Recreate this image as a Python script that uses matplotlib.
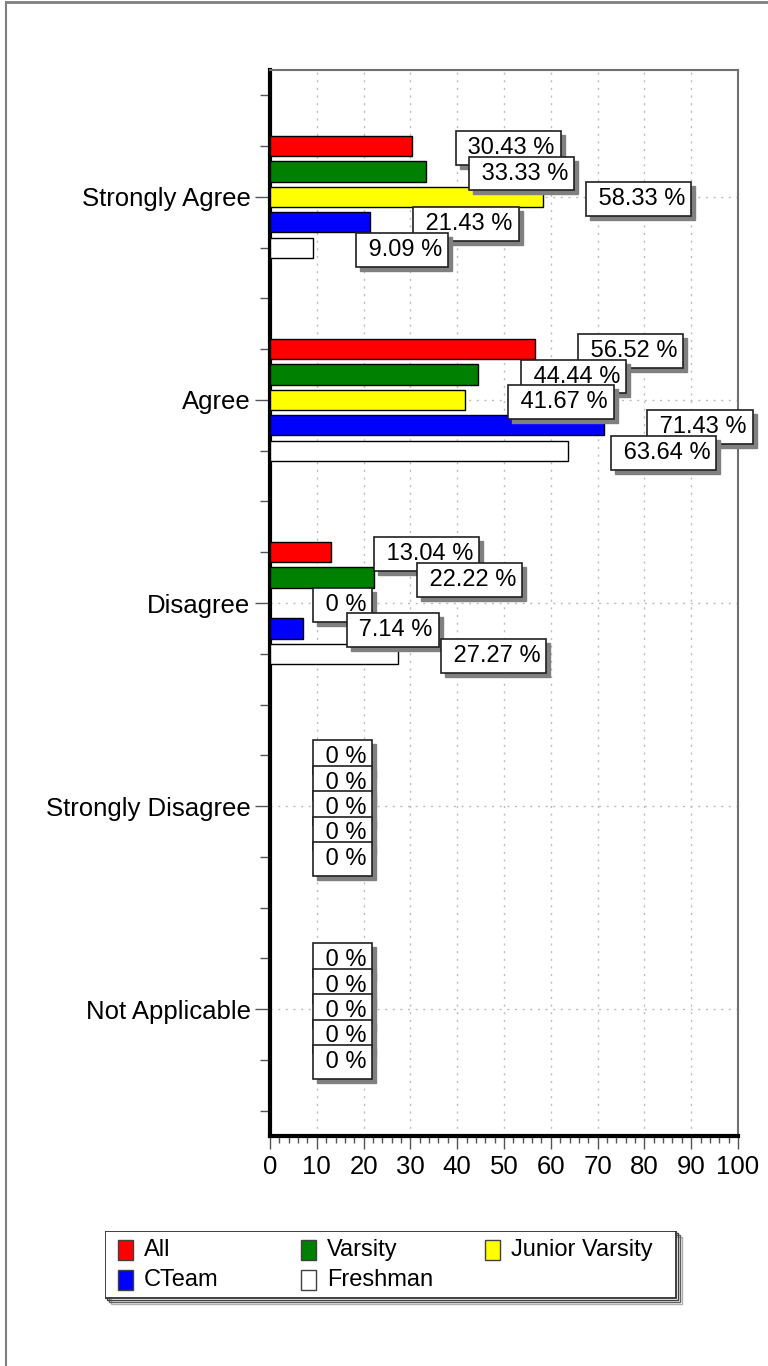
import matplotlib.pyplot as plt
import matplotlib.patches as mpatches
from matplotlib.lines import Line2D
from matplotlib.ticker import FixedLocator
import numpy as np

plt.rcParams['font.family'] = ['Liberation Sans', 'DejaVu Sans']

# data
categories = ['Strongly Agree', 'Agree', 'Disagree', 'Strongly Disagree', 'Not Applicable']
groups = ['All', 'Varsity', 'Junior Varsity', 'CTeam', 'Freshman']
colors = ['#ff0000', '#008000', '#ffff00', '#0000ff', '#ffffff']
vals_all = [30.43, 56.52, 13.04, 0, 0]
vals_varsity = [33.33, 44.44, 22.22, 0, 0]
vals_jv = [58.33, 41.67, 0, 0, 0]
vals_cteam = [21.43, 71.43, 7.14, 0, 0]
vals_fresh = [9.09, 63.64, 27.27, 0, 0]
xticks = [0, 10, 20, 30, 40, 50, 60, 70, 80, 90, 100]

series = [vals_all, vals_varsity, vals_jv, vals_cteam, vals_fresh]
offsets = [-0.25, -0.125, 0, 0.125, 0.25]

W, H = 768, 1366
fig = plt.figure(figsize=(W / 100, H / 100), dpi=100)

# outer frame of the original page
fig.add_artist(Line2D([6 / W, 6 / W], [0, 1 - 2 / H], transform=fig.transFigure, color='#808080', lw=1.5))
fig.add_artist(Line2D([6 / W, 1], [1 - 2 / H, 1 - 2 / H], transform=fig.transFigure, color='#808080', lw=2))

ax = fig.add_axes([270 / W, 1 - 1136 / H, (738 - 270) / W, (1136 - 70) / H])
ypos = np.arange(len(categories))

for i, s in enumerate(series):
    ax.barh(ypos + offsets[i], s, height=0.1, color=colors[i], edgecolor='black', lw=1, zorder=3)

# value labels with drop shadows, drawn in order so later ones sit on top
z = 10
for j in range(len(categories)):
    for i, s in enumerate(series):
        v = s[j]
        y = j + offsets[i]
        txt = ' ' + ('%g' % v) + ' %'
        ax.annotate(txt, (v, y), xytext=(49 + 4, -6), textcoords='offset pixels',
                    ha='left', va='center', fontsize=17, color='none', zorder=z,
                    bbox=dict(boxstyle='square,pad=0.25', fc='#808080', ec='#808080', lw=1))
        ax.annotate(txt, (v, y), xytext=(49, -2), textcoords='offset pixels',
                    ha='left', va='center', fontsize=17, color='black', zorder=z + 1,
                    bbox=dict(boxstyle='square,pad=0.25', fc='white', ec='#202020', lw=1.2))
        z += 2

ax.set_xlim(0, 100)
ax.set_ylim(len(categories) - 1 + 0.625, -0.625)
ax.set_xticks(xticks)
ax.set_xticklabels([str(t) for t in xticks])
ax.xaxis.set_minor_locator(FixedLocator(np.arange(0, 101, 2)))
ax.set_yticks(ypos)
ax.set_yticklabels(categories)
minor_y = sorted(set([c + d for c in ypos for d in (-0.5, -0.25, 0.25, 0.5)]))
ax.yaxis.set_minor_locator(FixedLocator(minor_y))

ax.tick_params(axis='x', which='major', length=9, width=1, color='#555555', labelsize=18.5, pad=5)
ax.tick_params(axis='x', which='minor', length=5, width=1, color='#555555')
ax.tick_params(axis='y', which='major', length=11, width=1, color='#555555', labelsize=18.5, pad=3)
ax.tick_params(axis='y', which='minor', length=7, width=1, color='#555555')

ax.set_axisbelow(True)
ax.grid(True, which='major', color='#bdbdbd', linestyle=(0, (1.5, 4)), lw=1)

ax.spines['left'].set_linewidth(3)
ax.spines['bottom'].set_linewidth(3)
ax.spines['left'].set_color('black')
ax.spines['bottom'].set_color('black')
ax.spines['top'].set_color('#707070')
ax.spines['right'].set_color('#707070')
ax.spines['top'].set_linewidth(1.5)
ax.spines['right'].set_linewidth(1.5)

# legend box (pixel coordinates inside its own axes)
lw_, lh_ = 571, 67
lax = fig.add_axes([105 / W, 1 - 1306 / H, (lw_ + 8) / W, (lh_ + 8) / H])
lax.set_xlim(0, lw_ + 8)
lax.set_ylim(lh_ + 8, 0)
lax.axis('off')
for d, c in [(6, '#b0b0b0'), (4, '#606060'), (2, '#404040')]:
    lax.add_patch(mpatches.Rectangle((d, d), lw_, lh_, fc='none', ec=c, lw=1))
lax.add_patch(mpatches.Rectangle((0, 0), lw_, lh_, fc='white', ec='#303030', lw=1.3))
col_x = [13, 196, 380]
row_y = [19, 49]
for k, g in enumerate(groups):
    r, c = divmod(k, 3)
    lax.add_patch(mpatches.Rectangle((col_x[c], row_y[r] - 10), 15, 20, fc=colors[k], ec='#404040', lw=1))
    lax.text(col_x[c] + 26, row_y[r], g, ha='left', va='center', fontsize=17)

fig.savefig('out.png', dpi=100)
